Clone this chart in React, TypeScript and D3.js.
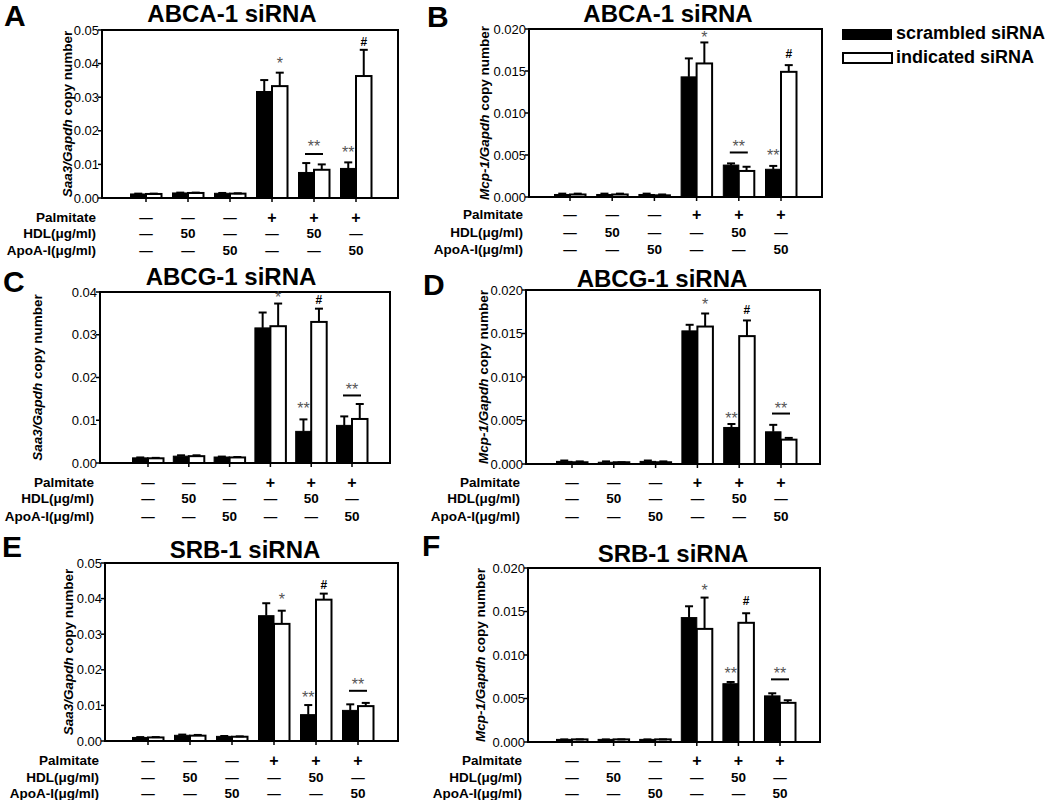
import React from "react";
import * as d3 from "d3";

// six treatment groups, read left to right
const groups = ["g1", "g2", "g3", "g4", "g5", "g6"];
const palmitateRow = ["—", "—", "—", "+", "+", "+"];
const hdlRow = ["—", "50", "—", "—", "50", "—"];
const apoaRow = ["—", "—", "50", "—", "—", "50"];
const rowLabels = ["Palmitate", "HDL(μg/ml)", "ApoA-I(μg/ml)"];
const seriesNames = ["scrambled siRNA", "indicated siRNA"];

// A: ABCA-1 siRNA, Saa3
const abcaSaaScr = [0.0012, 0.0015, 0.0014, 0.0317, 0.0076, 0.0088];
const abcaSaaScrErr = [0.0001, 0.0001, 0.0001, 0.0034, 0.0028, 0.0018];
const abcaSaaInd = [0.0012, 0.0015, 0.0013, 0.0333, 0.0084, 0.0363];
const abcaSaaIndErr = [0.0001, 0.0001, 0.0001, 0.004, 0.0016, 0.0078];
// B: ABCA-1 siRNA, Mcp-1
const abcaMcpScr = [0.0003, 0.0003, 0.0003, 0.0143, 0.0038, 0.0033];
const abcaMcpScrErr = [0.0001, 0.0001, 0.0001, 0.0022, 0.0002, 0.0004];
const abcaMcpInd = [0.0003, 0.0003, 0.0002, 0.0159, 0.0031, 0.0149];
const abcaMcpIndErr = [0.0001, 0.0001, 0.0001, 0.0025, 0.0005, 0.0008];
// C: ABCG-1 siRNA, Saa3
const abcgSaaScr = [0.0012, 0.0016, 0.0014, 0.0316, 0.0074, 0.0088];
const abcgSaaScrErr = [0.0001, 0.0002, 0.0001, 0.0036, 0.0028, 0.0021];
const abcgSaaInd = [0.0011, 0.0016, 0.0013, 0.032, 0.033, 0.0103];
const abcgSaaIndErr = [0.0001, 0.0002, 0.0001, 0.0053, 0.0031, 0.0035];
// D: ABCG-1 siRNA, Mcp-1
const abcgMcpScr = [0.0003, 0.0002, 0.0003, 0.0153, 0.0042, 0.0037];
const abcgMcpScrErr = [0.0001, 0.0001, 0.0001, 0.0007, 0.0004, 0.0008];
const abcgMcpInd = [0.0002, 0.0002, 0.0002, 0.0158, 0.0147, 0.0028];
const abcgMcpIndErr = [0.0001, 0.0, 0.0001, 0.0015, 0.0018, 0.0002];
// E: SRB-1 siRNA, Saa3
const srbSaaScr = [0.001, 0.0016, 0.0013, 0.0352, 0.0074, 0.0086];
const srbSaaScrErr = [0.0001, 0.0002, 0.0001, 0.0035, 0.0027, 0.0017];
const srbSaaInd = [0.001, 0.0015, 0.0012, 0.0329, 0.0397, 0.0098];
const srbSaaIndErr = [0.0001, 0.0002, 0.0001, 0.0037, 0.0017, 0.0009];
// F: SRB-1 siRNA, Mcp-1
const srbMcpScr = [0.0003, 0.0003, 0.0003, 0.0143, 0.0067, 0.0053];
const srbMcpScrErr = [0.0, 0.0, 0.0, 0.0013, 0.0002, 0.0003];
const srbMcpInd = [0.0003, 0.0003, 0.0003, 0.013, 0.0137, 0.0045];
const srbMcpIndErr = [0.0, 0.0, 0.0, 0.0036, 0.0011, 0.0003];

// significance marks: group index, over which bar, text, value height (line = bar over the pair)
const abcaSaaMarks = [
  { g: 3, at: "i", text: "*", v: 0.0413 },
  { g: 4, at: "pair", text: "**", v: 0.0164, line: 0.0131 },
  { g: 5, at: "s", text: "**", v: 0.0149 },
  { g: 5, at: "i", text: "#", v: 0.0464 },
];
const abcaMcpMarks = [
  { g: 3, at: "i", text: "*", v: 0.0195 },
  { g: 4, at: "pair", text: "**", v: 0.0065, line: 0.0053 },
  { g: 5, at: "s", text: "**", v: 0.0054 },
  { g: 5, at: "i", text: "#", v: 0.0171 },
];
const abcgSaaMarks = [
  { g: 3, at: "i", text: "*", v: 0.0397 },
  { g: 4, at: "s", text: "**", v: 0.0137 },
  { g: 4, at: "i", text: "#", v: 0.0383 },
  { g: 5, at: "pair", text: "**", v: 0.0181, line: 0.0158 },
];
const abcgMcpMarks = [
  { g: 3, at: "i", text: "*", v: 0.0188 },
  { g: 4, at: "s", text: "**", v: 0.0057 },
  { g: 4, at: "i", text: "#", v: 0.0177 },
  { g: 5, at: "pair", text: "**", v: 0.0069, line: 0.0058 },
];
const srbSaaMarks = [
  { g: 3, at: "i", text: "*", v: 0.0408 },
  { g: 4, at: "s", text: "**", v: 0.0133 },
  { g: 4, at: "i", text: "#", v: 0.0439 },
  { g: 5, at: "pair", text: "**", v: 0.0171, line: 0.0141 },
];
const srbMcpMarks = [
  { g: 3, at: "i", text: "*", v: 0.0179 },
  { g: 4, at: "s", text: "**", v: 0.0083 },
  { g: 4, at: "i", text: "#", v: 0.0162 },
  { g: 5, at: "pair", text: "**", v: 0.0083, line: 0.0072 },
];

const FONT = "'Liberation Sans', Arial, Helvetica, sans-serif";

const panels = [
  {
    letter: "A", title: "ABCA-1 siRNA", gene: "Saa3", max: 0.05, ticks: 5, fmt: ".2f",
    scr: abcaSaaScr, scrErr: abcaSaaScrErr, ind: abcaSaaInd, indErr: abcaSaaIndErr, marks: abcaSaaMarks,
    box: { l: 102, r: 398, t: 30, b: 198 }, xr: [146, 356], titleX: 232, titleY: 22,
    letterXY: [4, 26], labelDx: 35, rowsY: [217, 233, 250],
  },
  {
    letter: "B", title: "ABCA-1 siRNA", gene: "Mcp-1", max: 0.02, ticks: 4, fmt: ".3f",
    scr: abcaMcpScr, scrErr: abcaMcpScrErr, ind: abcaMcpInd, indErr: abcaMcpIndErr, marks: abcaMcpMarks,
    box: { l: 529, r: 822, t: 29, b: 197 }, xr: [570, 781], titleX: 668, titleY: 22,
    letterXY: [427, 27], labelDx: 45, rowsY: [214, 232, 249],
  },
  {
    letter: "C", title: "ABCG-1 siRNA", gene: "Saa3", max: 0.04, ticks: 4, fmt: ".2f",
    scr: abcgSaaScr, scrErr: abcgSaaScrErr, ind: abcgSaaInd, indErr: abcgSaaIndErr, marks: abcgSaaMarks,
    box: { l: 100, r: 390, t: 292, b: 463 }, xr: [148, 352], titleX: 231, titleY: 285,
    letterXY: [3, 292], labelDx: 63, rowsY: [482, 498, 516],
  },
  {
    letter: "D", title: "ABCG-1 siRNA", gene: "Mcp-1", max: 0.02, ticks: 4, fmt: ".3f",
    scr: abcgMcpScr, scrErr: abcgMcpScrErr, ind: abcgMcpInd, indErr: abcgMcpIndErr, marks: abcgMcpMarks,
    box: { l: 526, r: 820, t: 290, b: 464 }, xr: [572, 781], titleX: 662, titleY: 287,
    letterXY: [423, 295], labelDx: 43, rowsY: [482, 498, 516],
  },
  {
    letter: "E", title: "SRB-1 siRNA", gene: "Saa3", max: 0.05, ticks: 5, fmt: ".2f",
    scr: srbSaaScr, scrErr: srbSaaScrErr, ind: srbSaaInd, indErr: srbSaaIndErr, marks: srbSaaMarks,
    box: { l: 105, r: 398, t: 563, b: 741 }, xr: [148, 358], titleX: 245, titleY: 558,
    letterXY: [2, 557], labelDx: 37, rowsY: [760, 777, 793],
  },
  {
    letter: "F", title: "SRB-1 siRNA", gene: "Mcp-1", max: 0.02, ticks: 4, fmt: ".3f",
    scr: srbMcpScr, scrErr: srbMcpScrErr, ind: srbMcpInd, indErr: srbMcpIndErr, marks: srbMcpMarks,
    box: { l: 528, r: 820, t: 568, b: 742 }, xr: [572, 780], titleX: 673, titleY: 562,
    letterXY: [422, 556], labelDx: 48, rowsY: [760, 777, 793],
  },
];

const BW = 15.5;

function Panel({ p }: { p: any }) {
  const { l, r, t, b } = p.box;
  const x = d3.scalePoint<string>().domain(groups).range(p.xr);
  const y = d3.scaleLinear().domain([0, p.max]).range([b, t]);
  const fmt = d3.format(p.fmt);
  const rows = [palmitateRow, hdlRow, apoaRow];

  const errBar = (cx: number, v: number, e: number, key: string) => (
    <g key={key} stroke="#000" strokeWidth={2}>
      <line x1={cx} x2={cx} y1={y(v)} y2={y(v + e)} />
      <line x1={cx - 4} x2={cx + 4} y1={y(v + e)} y2={y(v + e)} />
    </g>
  );

  return (
    <g>
      <text x={p.letterXY[0]} y={p.letterXY[1]} fontSize={30} fontWeight="bold">{p.letter}</text>
      <text x={p.titleX} y={p.titleY} textAnchor="middle" fontSize={24} fontWeight="bold">{p.title}</text>

      {groups.map((g, i) => {
        const cx = x(g)!;
        const vs = p.scr[i], vi = p.ind[i];
        return (
          <g key={g}>
            <rect x={cx - BW} y={y(vs)} width={BW} height={b - y(vs)} fill="#000" stroke="#000" strokeWidth={1} />
            <rect x={cx} y={y(vi)} width={BW} height={b - y(vi)} fill="#fff" stroke="#000" strokeWidth={2} />
            {errBar(cx - BW / 2, vs, p.scrErr[i], "es")}
            {errBar(cx + BW / 2, vi, p.indErr[i], "ei")}
          </g>
        );
      })}

      <rect x={l} y={t} width={r - l} height={b - t} fill="none" stroke="#000" strokeWidth={2} />

      {y.ticks(p.ticks).map((tv) => (
        <g key={tv}>
          <line x1={l - 4} x2={l} y1={y(tv)} y2={y(tv)} stroke="#000" strokeWidth={1.5} />
          <text x={l - 3} y={y(tv)} dy="0.35em" textAnchor="end" fontSize={13}>{fmt(tv)}</text>
        </g>
      ))}
      {groups.map((g) => (
        <line key={g} x1={x(g)!} x2={x(g)!} y1={b} y2={b + 4} stroke="#000" strokeWidth={1.5} />
      ))}

      <text
        transform={`translate(${l - p.labelDx},${(t + b) / 2}) rotate(-90)`}
        textAnchor="middle" dy="0.35em" fontSize={13.5} fontWeight="bold"
      >
        <tspan fontStyle="italic">{p.gene}/Gapdh</tspan> copy number
      </text>

      {p.marks.map((m: any, k: number) => {
        const cx = x(groups[m.g])! + (m.at === "s" ? -BW / 2 : m.at === "i" ? BW / 2 : 0);
        const isHash = m.text === "#";
        const fs = isHash ? 12 : 16;
        return (
          <g key={k}>
            {m.line !== undefined && (
              <line x1={cx - 9} x2={cx + 9} y1={y(m.line)} y2={y(m.line)} stroke="#000" strokeWidth={2} />
            )}
            <text
              x={cx} y={y(m.v) + (isHash ? 0.36 : 0.6) * fs} textAnchor="middle"
              fontSize={fs} fontWeight={isHash ? "bold" : "normal"} fill={isHash ? "#000" : "#555"}
            >
              {m.text}
            </text>
          </g>
        );
      })}

      {rows.map((row, ri) => (
        <g key={ri} fontWeight="bold">
          <text x={l - 6} y={p.rowsY[ri]} dy="0.35em" textAnchor="end" fontSize={13.5}>{rowLabels[ri]}</text>
          {row.map((c, ci) => (
            <text key={ci} x={x(groups[ci])!} y={p.rowsY[ri]} dy="0.35em" textAnchor="middle" fontSize={c === "+" ? 16 : 13.5}>
              {c}
            </text>
          ))}
        </g>
      ))}
    </g>
  );
}

export default function App() {
  return (
    <svg
      width={1050} height={800} viewBox="0 0 1050 800"
      style={{ position: "absolute", left: 0, top: 0, background: "#fff" }}
      fontFamily={FONT}
    >
      <rect width={1050} height={800} fill="#fff" />
      {panels.map((p) => <Panel key={p.letter} p={p} />)}
      <g fontWeight="bold" fontSize={18}>
        <rect x={842} y={29} width={50} height={11} fill="#000" />
        <text x={896} y={39}>{seriesNames[0]}</text>
        <rect x={843} y={53} width={49} height={10} fill="#fff" stroke="#000" strokeWidth={2} />
        <text x={896} y={63}>{seriesNames[1]}</text>
      </g>
    </svg>
  );
}
